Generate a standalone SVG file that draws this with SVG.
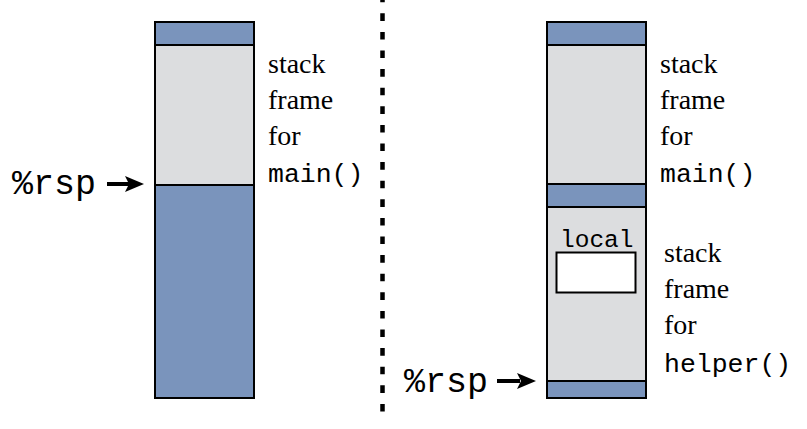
<svg xmlns="http://www.w3.org/2000/svg" width="807" height="429" viewBox="0 0 807 429">
<rect x="0" y="0" width="807" height="429" fill="#fff"/>
<g id="left-stack" stroke="#000" stroke-width="2">
<rect fill="#7a94bc" x="155" y="22" width="99" height="23"/>
<rect fill="#dcdddf" x="155" y="45" width="99" height="140"/>
<rect fill="#7a94bc" x="155" y="185" width="99" height="213"/>
</g>
<g id="left-label">
<text font-family="Liberation Serif" font-size="28" x="268" y="73">stack</text>
<text font-family="Liberation Serif" font-size="28" x="268" y="109">frame</text>
<text font-family="Liberation Serif" font-size="28" x="268" y="145">for</text>
<text font-family="Liberation Mono" font-size="26.5" x="268" y="182">main()</text>
</g>
<g id="left-rsp">
<text font-family="Liberation Mono" font-size="35" x="12" y="194">%rsp</text>
</g>
<g id="divider">
<line x1="382.5" y1="0" x2="382.5" y2="422" stroke="#000" stroke-width="4.5" stroke-dasharray="7.6 11" stroke-dashoffset="5.3"/>
</g>
<g id="right-stack" stroke="#000" stroke-width="2">
<rect fill="#7a94bc" x="547" y="22" width="99" height="23"/>
<rect fill="#dcdddf" x="547" y="45" width="99" height="139"/>
<rect fill="#7a94bc" x="547" y="184" width="99" height="23"/>
<rect fill="#dcdddf" x="547" y="207" width="99" height="174"/>
<rect fill="#7a94bc" x="547" y="381" width="99" height="17"/>
</g>
<g id="right-labels">
<text font-family="Liberation Serif" font-size="28" x="660" y="73">stack</text>
<text font-family="Liberation Serif" font-size="28" x="660" y="109">frame</text>
<text font-family="Liberation Serif" font-size="28" x="660" y="145">for</text>
<text font-family="Liberation Mono" font-size="26.5" x="660" y="182">main()</text>
<text font-family="Liberation Serif" font-size="28" x="664" y="262">stack</text>
<text font-family="Liberation Serif" font-size="28" x="664" y="298">frame</text>
<text font-family="Liberation Serif" font-size="28" x="664" y="334">for</text>
<text font-family="Liberation Mono" font-size="26.5" x="664" y="372">helper()</text>
</g>
<g id="local">
<rect x="556.5" y="252.5" width="79" height="40" fill="#fff" stroke="#000" stroke-width="2"/>
<text font-family="Liberation Mono" font-size="24.5" x="560" y="247">local</text>
</g>
<g id="right-rsp">
<text font-family="Liberation Mono" font-size="35" x="404" y="392">%rsp</text>
</g>
<g id="connectors" stroke="#000" stroke-width="4">
<line x1="107" y1="184" x2="130" y2="184"/>
<path d="M125,176 L144,184 L125,192 L129,184 z" fill="#000" stroke="none"/>
<line x1="497" y1="381" x2="520" y2="381"/>
<path d="M517,373 L536,381 L517,389 L521,381 z" fill="#000" stroke="none"/>
</g>
</svg>
